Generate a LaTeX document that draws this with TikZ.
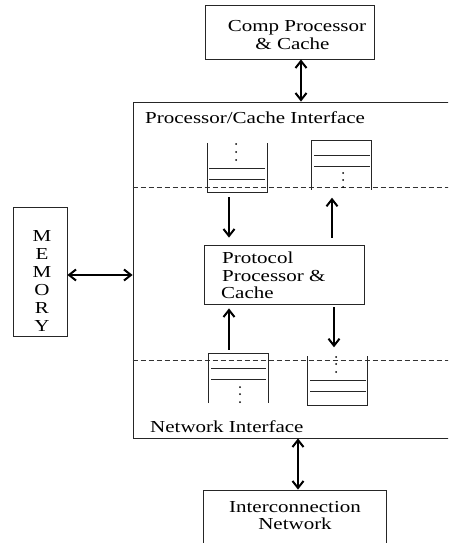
\documentclass[tikz,border=0pt]{standalone}
\usepackage{fontspec}
\setmainfont{Liberation Serif}[FakeStretch=1.25]
\usetikzlibrary{arrows.meta}
\begin{document}
\begin{tikzpicture}[x=1pt,y=-1pt,
  box/.style={draw=black!85, line width=0.8pt, rectangle, inner sep=0pt},
  txt/.style={font=\fontsize{16.8}{18}\selectfont, inner sep=0pt},
  queue/.style={rectangle, inner sep=0pt, minimum width=59pt, minimum height=49pt},
  qline/.style={draw=black!85, line width=0.8pt},
  dashline/.style={draw=black!80, line width=0.7pt, dash pattern=on 5pt off 3pt},
  arr/.style={line width=2pt, -{Straight Barb[length=7pt,width=11pt]}},
  darr/.style={line width=2pt, {Straight Barb[length=7pt,width=11pt]}-{Straight Barb[length=7pt,width=11pt]}},
  qdot/.style={fill=black, draw=none}]
\useasboundingbox (0,0) rectangle (448,543);
\clip (0,0) rectangle (448,543);

% boxes
\node[box, minimum width=169pt, minimum height=54pt] (comp) at (289.5,32) {};
\node[txt, anchor=base] (comp1) at (297,32) {Comp Processor};
\node[txt, anchor=base] (comp2) at (292.5,50) {\& Cache};

\node[box, minimum width=337pt, minimum height=336pt] (main) at (301.5,270) {};
\node[txt, anchor=base west] (pci) at (145,123) {Processor/Cache Interface};
\node[txt, anchor=base west] (ni) at (150,432) {Network Interface};

\node[box, minimum width=160pt, minimum height=59pt] (proto) at (284,274.5) {};
\node[txt, anchor=base west] (p1) at (222,263) {Protocol};
\node[txt, anchor=base west] (p2) at (222,281) {Processor \&};
\node[txt, anchor=base west] (p3) at (221,298) {Cache};

\node[box, minimum width=54pt, minimum height=129pt] (mem) at (40,271.5) {};
\foreach \l [count=\i from 0] in {M,E,M,O,R,Y}
  \node[txt, anchor=base] (m\i) at (42,241+18*\i) {\l};

\node[box, minimum width=183pt, minimum height=80pt] (inet) at (294.5,530) {};
\node[txt, anchor=base] (i1) at (295,512) {Interconnection};
\node[txt, anchor=base] (i2) at (295,529) {Network};

% dashed separators
\draw[dashline] (main.west |- 0,187) -- (main.east |- 0,187);
\draw[dashline] (main.west |- 0,360) -- (main.east |- 0,360);

% queues
\node[queue] (q1) at (237.5,167.5) {};
\node[queue] (q2) at (341.5,165) {};
\node[queue] (q3) at (238.5,378.5) {};
\node[queue] (q4) at (337.5,381) {};

\draw[qline] (q1.north west) -- (q1.south west) -- (q1.south east) -- (q1.north east);
\draw[qline] (209,168) -- (265,168) (209,179) -- (265,179);
\foreach \yy in {144,152,160} \fill[qdot] (236,\yy) circle (1pt);

\draw[qline] (q2.south west) -- (q2.north west) -- (q2.north east) -- (q2.south east);
\draw[qline] (314,155) -- (370,155) (314,166) -- (370,166);
\foreach \yy in {173,180,187} \fill[qdot] (343,\yy) circle (1pt);

\draw[qline] (q3.south west) -- (q3.north west) -- (q3.north east) -- (q3.south east);
\draw[qline] (211,368) -- (266,368) (211,379) -- (266,379);
\foreach \yy in {387,394,402} \fill[qdot] (240,\yy) circle (1pt);

\draw[qline] (q4.north west) -- (q4.south west) -- (q4.south east) -- (q4.north east);
\draw[qline] (310,380) -- (366,380) (310,391) -- (366,391);
\foreach \yy in {357,364,372} \fill[qdot] (336,\yy) circle (1pt);

% arrow x positions
\coordinate (xa) at (229,0);
\coordinate (xb) at (332,0);
\coordinate (xc) at (334,0);
\coordinate (xt) at (301,0);
\coordinate (xn) at (298,0);
\coordinate (ym) at (0,275);

% connectors
\draw[darr] (comp.south -| xt) -- (main.north -| xt);
\draw[darr] (mem.east |- ym) -- (main.west |- ym);
\draw[darr] (main.south -| xn) -- (inet.north -| xn);
\draw[arr, shorten <=5pt, shorten >=7pt] (q1.south -| xa) -- (proto.north -| xa);
\draw[arr, shorten <=7pt, shorten >=8pt] (proto.north -| xb) -- (q2.south -| xb);
\draw[arr, shorten <=4pt, shorten >=4pt] (q3.north -| xa) -- (proto.south -| xa);
\draw[arr, shorten <=3pt, shorten >=9pt] (proto.south -| xc) -- (q4.north -| xc);
\end{tikzpicture}
\end{document}
